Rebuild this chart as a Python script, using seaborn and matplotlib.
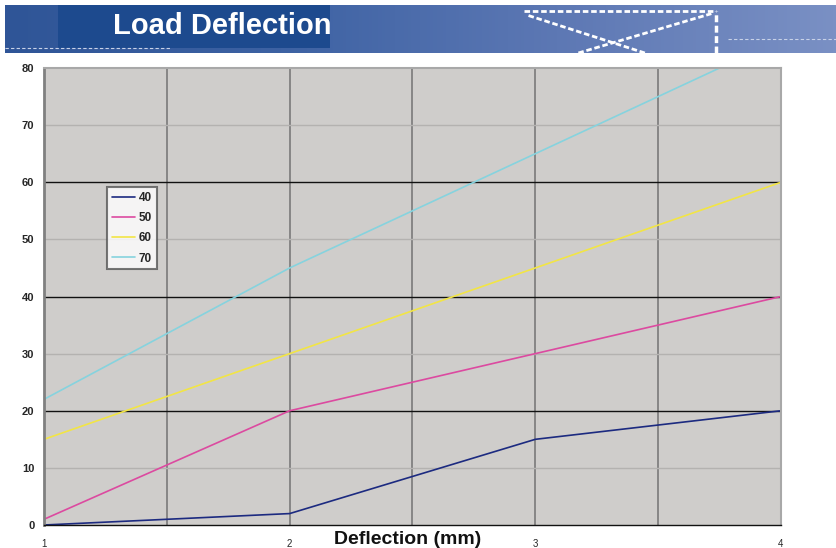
import matplotlib
matplotlib.use("Agg")
import matplotlib.pyplot as plt
import matplotlib.patches as mpatches
from matplotlib.colors import LinearSegmentedColormap
import numpy as np
import pandas as pd
import seaborn as sns

sns.set_theme(style="white")
plt.rcParams["font.family"] = ["Liberation Sans", "DejaVu Sans"]

# data
deflection = [1, 2, 3, 4]
series_names = ["40", "50", "60", "70"]
load_40 = [0, 2, 15, 20]
load_50 = [1, 20, 30, 40]
load_60 = [15, 30, 45, 60]
load_70 = [22, 45, 65, 85]
colors = ["#1c2a80", "#dc4aa0", "#f2e545", "#86d3de"]

rows = []
for name, vals in zip(series_names, [load_40, load_50, load_60, load_70]):
    for x, y in zip(deflection, vals):
        rows.append({"Deflection": x, "Load": y, "series": name})
df = pd.DataFrame(rows)

W, H = 836, 548
fig = plt.figure(figsize=(W / 100, H / 100), dpi=100)
fig.patch.set_facecolor("white")

# banner
bax = fig.add_axes([5 / W, 1 - 53 / H, 1 - 5 / W, 48 / H])
grad = np.linspace(0, 1, 256).reshape(1, -1)
bcmap = LinearSegmentedColormap.from_list("b", ["#2f5597", "#3d62a3", "#5d78b4", "#7a90c4"])
bax.imshow(grad, aspect="auto", cmap=bcmap, extent=[0, 1, 0, 1])
bax.add_patch(mpatches.Rectangle((53 / 831, 0.1), (330 - 58) / 831, 0.9, color="#1d4a8e", lw=0))
# decorative dashed frame
bax.plot([0.625, 0.855], [0.88, 0.88], color="white", lw=2, ls=(0, (2, 1)))
bax.plot([0.855, 0.855], [0.0, 0.88], color="white", lw=2.5, ls=(0, (2, 1)))
bax.plot([0.63, 0.77], [0.78, 0.0], color="white", lw=2, ls=(0, (2, 1)))
bax.plot([0.69, 0.85], [0.0, 0.82], color="white", lw=2, ls=(0, (2, 1)))
bax.plot([0.0, 0.2], [0.1, 0.1], color="#c8d2e8", lw=0.8, ls=(0, (3, 2)))
bax.plot([0.87, 1.0], [0.3, 0.3], color="#c8d2e8", lw=0.8, ls=(0, (3, 2)))
bax.set_xlim(0, 1)
bax.set_ylim(0, 1)
bax.axis("off")
fig.text(113 / W, 1 - 26 / H, "Load Deflection", color="white", fontsize=21,
         fontweight="bold", va="center", ha="left")

# chart
ax = fig.add_axes([44 / W, 1 - 525 / H, (781 - 44) / W, (525 - 68) / H])
ax.set_facecolor("#cfcdcb")
sns.lineplot(data=df, x="Deflection", y="Load", hue="series",
             palette=colors, linewidth=1.2, ax=ax, legend=True)

ax.set_xlim(1, 4)
ax.set_ylim(0, 80)
ax.set_xticks([1, 2, 3, 4])
ax.set_xticklabels(["1", "2", "3", "4"], fontsize=7)
ax.set_yticks(range(0, 81, 10))
ax.set_yticklabels([str(v) for v in range(0, 81, 10)], fontsize=8, fontweight="bold")
ax.tick_params(axis="both", which="major", length=4, width=1, color="#555555",
               direction="out", pad=3)
ax.tick_params(axis="x", pad=6)

for v in [1.5, 2, 2.5, 3, 3.5]:
    ax.axvline(v, color="#7a7a7a", lw=1.2, zorder=0.5)
for v in [10, 30, 50, 70]:
    ax.axhline(v, color="#b4b2b0", lw=1, zorder=0.5)
for v in [20, 40, 60]:
    ax.axhline(v, color="#111111", lw=1, zorder=0.5)

for side in ["top", "right"]:
    ax.spines[side].set_color("#a8a8a8")
    ax.spines[side].set_linewidth(1.5)
ax.spines["left"].set_color("#808080")
ax.spines["left"].set_linewidth(2)
ax.spines["bottom"].set_color("#111111")
ax.spines["bottom"].set_linewidth(1)

ax.set_ylabel("")
ax.set_xlabel("")
fig.text(408 / W, 1 - 539 / H, "Deflection (mm)", fontsize=14, fontweight="bold",
         ha="center", va="center", color="#111111")

leg = ax.legend(title=None, loc="upper left", bbox_to_anchor=(63 / 737, 1 - 119 / 457),
                borderaxespad=0, frameon=True, fancybox=False, fontsize=8.5,
                handlelength=2.0, handletextpad=0.3, borderpad=0.4, labelspacing=0.7)
leg.get_frame().set_edgecolor("#555555")
leg.get_frame().set_linewidth(1.5)
leg.get_frame().set_facecolor("white")
for t in leg.get_texts():
    t.set_fontweight("bold")

fig.savefig("out.png", dpi=100)
